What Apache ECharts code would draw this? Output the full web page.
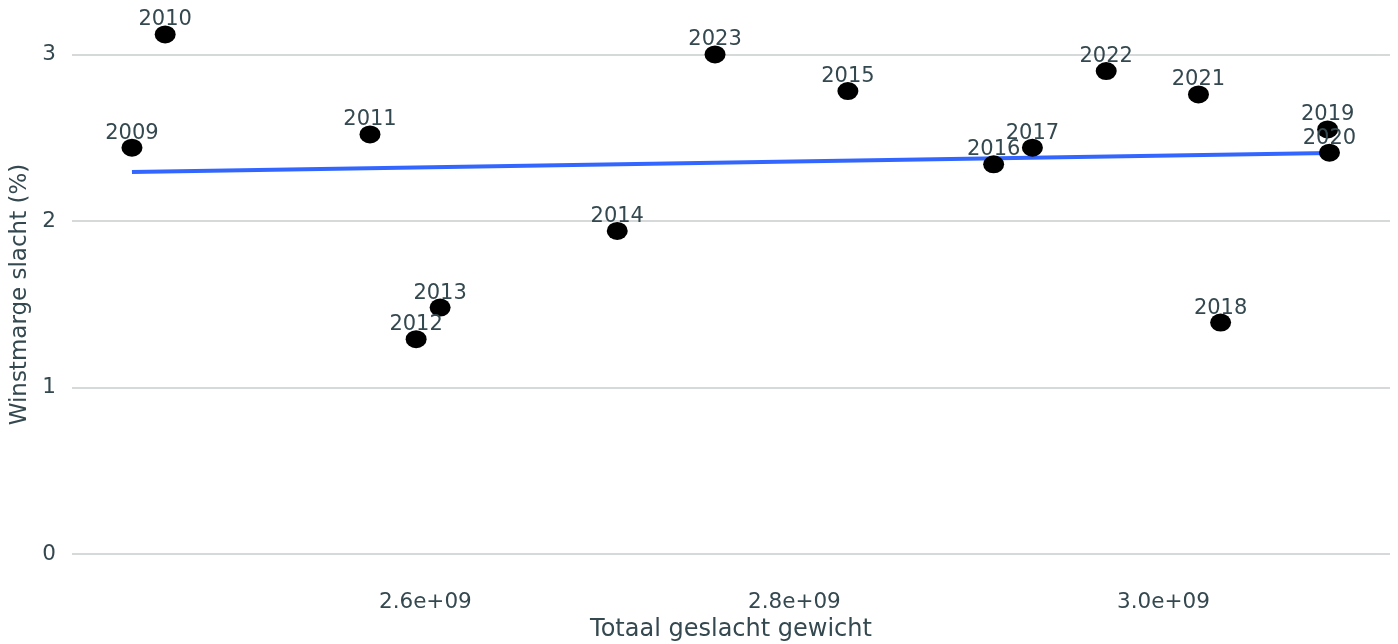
<!DOCTYPE html>
<html>
<head>
<meta charset="utf-8">
<script src="https://cdn.jsdelivr.net/npm/echarts@6/dist/echarts.min.js"></script>
<style>
html,body{margin:0;padding:0;background:#fff;}
#main{width:1398px;height:644px;}
</style>
</head>
<body>
<div id="main"></div>
<script>
// jaren en waarden
var years = ['2009','2010','2011','2012','2013','2014','2015','2016','2017','2018','2019','2020','2021','2022','2023'];
var gewicht = [2.441e9, 2.459e9, 2.570e9, 2.595e9, 2.608e9, 2.704e9, 2.829e9, 2.908e9, 2.929e9, 3.031e9, 3.089e9, 3.090e9, 3.019e9, 2.969e9, 2.757e9];
var marge = [2.44, 3.12, 2.52, 1.29, 1.48, 1.94, 2.78, 2.34, 2.44, 1.39, 2.55, 2.41, 2.76, 2.90, 3.00];
// trendlijn (lm) begin en eind
var trendX = [2.441e9, 3.090e9];
var trendY = [2.294, 2.408];
var xTicks = [2.6e9, 2.8e9, 3.0e9];
var yTicks = [0, 1, 2, 3];

var txtColor = '#34484f';
var font = 'DejaVu Sans';

var punten = [];
for (var i = 0; i < years.length; i++) {
    punten.push({value: [gewicht[i], marge[i]], name: years[i]});
}
var trend = [[trendX[0], trendY[0]], [trendX[1], trendY[1]]];

var chart = echarts.init(document.getElementById('main'));
var option = {
    animation: false,
    grid: {left: 72, right: 8, top: 9, bottom: 64, containLabel: false, outerBoundsMode: 'none'},
    xAxis: {
        type: 'value',
        min: 2.4085e9,
        max: 3.1228e9,
        name: 'Totaal geslacht gewicht',
        nameLocation: 'middle',
        nameGap: 35,
        nameTextStyle: {color: txtColor, fontFamily: font, fontSize: 24},
        axisLine: {show: false},
        axisTick: {show: false, customValues: xTicks},
        splitLine: {show: false},
        axisLabel: {
            customValues: xTicks,
            color: txtColor, fontFamily: font, fontSize: 21.5, margin: 11,
            formatter: function (v) { return (v / 1e9).toFixed(1) + 'e+09'; }
        }
    },
    yAxis: {
        type: 'value',
        min: -0.156,
        max: 3.273,
        name: 'Winstmarge slacht (%)',
        nameLocation: 'middle',
        nameGap: 40,
        nameTextStyle: {color: txtColor, fontFamily: font, fontSize: 23},
        axisLine: {show: false},
        axisTick: {show: false, customValues: yTicks},
        splitLine: {show: true, lineStyle: {color: '#c9cccd', width: 1.5}},
        axisLabel: {
            customValues: yTicks,
            color: txtColor, fontFamily: font, fontSize: 21.5, margin: 16
        }
    },
    series: [
        {
            type: 'line',
            data: trend,
            symbol: 'none',
            lineStyle: {color: '#3366ff', width: 4},
            z: 2
        },
        {
            type: 'scatter',
            data: punten,
            symbol: 'circle',
            symbolSize: [21, 18],
            itemStyle: {color: '#000', opacity: 1},
            label: {
                show: true,
                position: 'top',
                distance: -5,
                formatter: '{b}',
                color: txtColor,
                fontFamily: font,
                fontSize: 21
            },
            z: 3
        }
    ]
};
chart.setOption(option);
</script>
</body>
</html>
